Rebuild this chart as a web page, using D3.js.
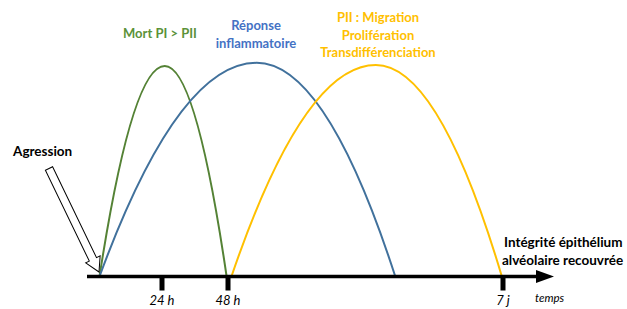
<!DOCTYPE html>
<html>
<head>
<meta charset="utf-8">
<script src="https://cdn.jsdelivr.net/npm/d3@7"></script>
<style>
  body { margin: 0; background: #fff; }
  svg { display: block; font-family: Lato, "Open Sans", sans-serif; }
</style>
</head>
<body>
<div class="container"></div>
<script>
// time ticks (hours) and their labels
var tickHours = [24, 48, 168];
var tickLabels = ["24 h", "48 h", "7 j"];

// each phase: start, peak, end (hours) and peak height (0-100)
var phaseNames = ["Mort PI > PII", "Réponse inflammatoire", "PII : Migration Prolifération Transdifférenciation"];
var phaseStart = [0, 0, 49.5];
var phasePeak = [25, 60.5, 112.5];
var phaseEnd = [47.5, 121, 167.5];
var phaseHeight = [100, 101.5, 100.5];

const WIDTH = 627;
const HEIGHT = 309;
const AXIS_Y = 276.5;

var svg = d3.select('.container').append('svg')
  .attr('width', WIDTH)
  .attr('height', HEIGHT);

// piecewise time scale (axis is not linear in the original)
var x = d3.scaleLinear()
  .domain([0, 24, 48, 168])
  .range([99.5, 162, 228, 503]);

var y = d3.scaleLinear()
  .domain([0, 100])
  .range([AXIS_Y, 66]);

var lineColors = ["#548235", "#41719c", "#ffc000"];
var textColors = ["#5b9239", "#4472c4", "#ffc000"];

// arches: two half-parabolas meeting at the peak
var arch = function (i) {
  var s = x(phaseStart[i]), p = x(phasePeak[i]), e = x(phaseEnd[i]);
  var h = y(phaseHeight[i]), b = y(0);
  var path = d3.path();
  path.moveTo(s, b);
  path.quadraticCurveTo((s + p) / 2, h, p, h);
  path.quadraticCurveTo((p + e) / 2, h, e, b);
  return path.toString();
};

svg.selectAll('path.arch')
  .data(d3.range(phaseNames.length))
  .enter().append('path')
  .attr('class', 'arch')
  .attr('d', arch)
  .attr('fill', 'none')
  .attr('stroke', function (i) { return lineColors[i]; })
  .attr('stroke-width', 2);

// time axis with arrow
svg.append('line')
  .attr('x1', 87).attr('x2', 540)
  .attr('y1', AXIS_Y).attr('y2', AXIS_Y)
  .attr('stroke', '#000').attr('stroke-width', 3.5);
svg.append('path')
  .attr('d', 'M536,' + (AXIS_Y - 6.5) + 'L554,' + AXIS_Y + 'L536,' + (AXIS_Y + 6.5) + 'Z')
  .attr('fill', '#000');

svg.selectAll('rect.tick')
  .data(tickHours)
  .enter().append('rect')
  .attr('class', 'tick')
  .attr('x', function (d) { return x(d) - 2.5; })
  .attr('y', AXIS_Y)
  .attr('width', 5)
  .attr('height', 14)
  .attr('fill', '#000');

svg.selectAll('text.tlabel')
  .data(tickHours)
  .enter().append('text')
  .attr('class', 'tlabel')
  .attr('x', function (d) { return x(d); })
  .attr('y', 305)
  .attr('text-anchor', 'middle')
  .attr('font-size', 13)
  .attr('font-style', 'italic')
  .text(function (d, i) { return tickLabels[i]; });

svg.append('text')
  .attr('x', 535).attr('y', 302)
  .attr('font-size', 11.5).attr('font-style', 'italic')
  .text('temps');

// phase titles
var titleLines = [["Mort PI > PII"], ["Réponse", "inflammatoire"], ["PII : Migration", "Prolifération", "Transdifférenciation"]];
var titleX = [160, 256, 378];
var titleY = [38, 30, 22];
titleLines.forEach(function (lines, i) {
  var t = svg.append('text')
    .attr('x', titleX[i]).attr('y', titleY[i])
    .attr('text-anchor', 'middle')
    .attr('font-size', 13).attr('font-weight', 'bold')
    .attr('fill', textColors[i]);
  lines.forEach(function (l, j) {
    t.append('tspan').attr('x', titleX[i]).attr('dy', j ? 17.5 : 0).text(l);
  });
});

// end-state label
var endText = svg.append('text')
  .attr('font-size', 13.5).attr('font-weight', 'bold').attr('fill', '#000');
endText.append('tspan').attr('x', 504).attr('y', 247).text('Intégrité épithélium');
endText.append('tspan').attr('x', 502).attr('y', 265).text('alvéolaire recouvrée');

// aggression label + hollow arrow
svg.append('text')
  .attr('x', 13).attr('y', 156)
  .attr('font-size', 13.5).attr('font-weight', 'bold')
  .text('Agression');

var ax0 = 49, ay0 = 168.5, ax1 = 99, ay1 = 272;
var ang = Math.atan2(ay1 - ay0, ax1 - ax0) * 180 / Math.PI;
var len = Math.hypot(ax1 - ax0, ay1 - ay0);
svg.append('path')
  .attr('transform', 'translate(' + ax0 + ',' + ay0 + ') rotate(' + ang + ')')
  .attr('d', 'M0,-4L' + (len - 14) + ',-4L' + (len - 14) + ',-8L' + len + ',0L' +
    (len - 14) + ',8L' + (len - 14) + ',4L0,4Z')
  .attr('fill', '#fff')
  .attr('stroke', '#000')
  .attr('stroke-width', 1);
</script>
</body>
</html>
